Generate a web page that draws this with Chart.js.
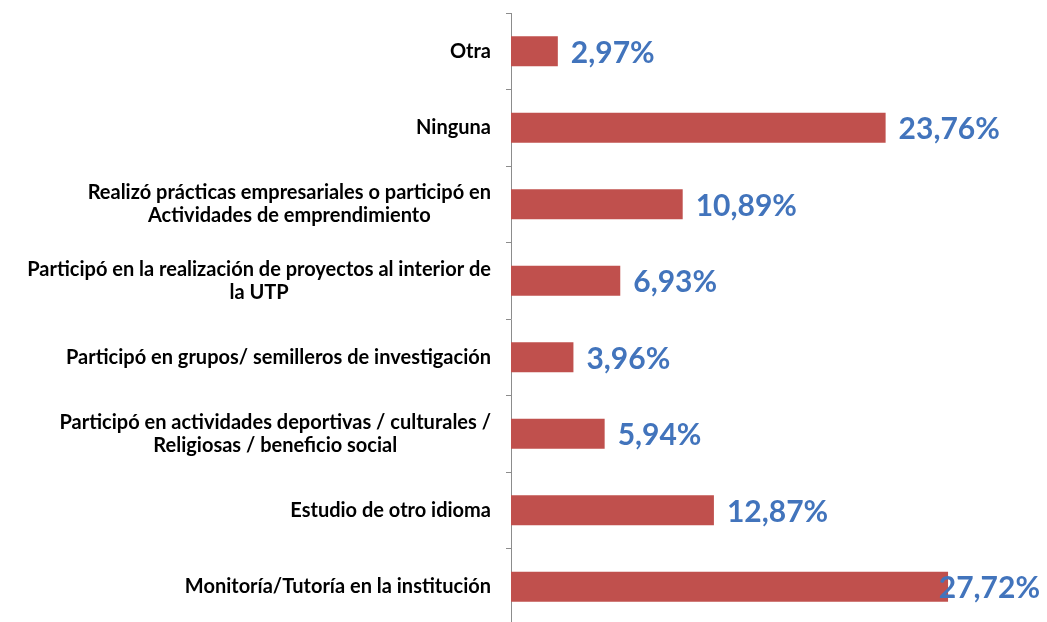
<!DOCTYPE html>
<html lang="es">
<head>
<meta charset="utf-8">
<title>Actividades</title>
<script src="https://cdn.jsdelivr.net/npm/chart.js@4.4.1/dist/chart.umd.min.js"></script>
<style>
    html, body { margin: 0; padding: 0; background: #ffffff; overflow: hidden; }
    #chart { display: block; }
</style>
</head>
<body>
<canvas id="chart" width="1047" height="625"></canvas>
<script>
// Categories, top to bottom
const categories = [
    'Otra',
    'Ninguna',
    ['Realizó prácticas empresariales o participó en', 'Actividades de emprendimiento'],
    ['Participó en la realización de proyectos al interior de', 'la UTP'],
    'Participó en grupos/ semilleros de investigación',
    ['Participó en actividades deportivas / culturales /', 'Religiosas / beneficio social'],
    'Estudio de otro idioma',
    'Monitoría/Tutoría en la institución'
];

// Percent of respondents
const percentages = [2.97, 23.76, 10.89, 6.93, 3.96, 5.94, 12.87, 27.72];

const barColor = '#C0504D';
const valueColor = '#4274BC';
const fontFamily = 'Lato, "Open Sans", sans-serif';
const labelFont = 'bold 20px ' + fontFamily;
const labelLineHeight = 23;

// Category labels: block right-aligned to the axis, lines centred within the block
const categoryLabels = {
    id: 'categoryLabels',
    afterDraw(chart) {
        const ctx = chart.ctx;
        const yScale = chart.scales.y;
        const right = yScale.right - 20;
        ctx.save();
        ctx.font = labelFont;
        ctx.fillStyle = '#000000';
        ctx.textBaseline = 'middle';
        ctx.textAlign = 'center';
        categories.forEach((label, i) => {
            const lines = Array.isArray(label) ? label : [label];
            const blockWidth = Math.max(...lines.map(l => ctx.measureText(l).width));
            const cx = right - blockWidth / 2;
            const cy = yScale.getPixelForTick(i);
            const top = cy - (lines.length - 1) * labelLineHeight / 2;
            lines.forEach((line, j) => {
                ctx.fillText(line, cx, top + j * labelLineHeight);
            });
        });
        ctx.restore();
    }
};

// Value labels drawn just past each bar end, pulled back in if they would run off the canvas
const valueLabels = {
    id: 'valueLabels',
    afterDatasetsDraw(chart) {
        const ctx = chart.ctx;
        const meta = chart.getDatasetMeta(0);
        ctx.save();
        ctx.font = 'bold 30px ' + fontFamily;
        ctx.fillStyle = valueColor;
        ctx.textBaseline = 'middle';
        ctx.textAlign = 'left';
        meta.data.forEach((bar, i) => {
            const text = percentages[i].toFixed(2).replace('.', ',') + '%';
            const w = ctx.measureText(text).width;
            let x = bar.x + 13;
            if (x + w > chart.width - 7) x = chart.width - 7 - w;
            ctx.fillText(text, x, bar.y + 2);
        });
        ctx.restore();
    }
};

new Chart(document.getElementById('chart'), {
    type: 'bar',
    data: {
        labels: categories,
        datasets: [{
            data: percentages,
            backgroundColor: barColor,
            borderWidth: 0,
            categoryPercentage: 1,
            barPercentage: 0.39
        }]
    },
    options: {
        indexAxis: 'y',
        responsive: false,
        animation: false,
        layout: {
            padding: { top: 13, right: 63, bottom: 0, left: 0 }
        },
        plugins: {
            legend: { display: false },
            tooltip: { enabled: false }
        },
        scales: {
            x: {
                display: false,
                min: 0,
                max: 30
            },
            y: {
                afterFit(scale) {
                    scale.width = 511;
                    scale.paddingTop = 0;
                    scale.paddingBottom = 0;
                },
                border: { display: true, color: '#8c8c8c', width: 1 },
                grid: {
                    drawOnChartArea: false,
                    drawTicks: true,
                    tickLength: 5,
                    color: '#8c8c8c'
                },
                ticks: {
                    padding: 15,
                    color: 'rgba(0,0,0,0)',
                    font: { family: fontFamily, size: 12 }
                }
            }
        }
    },
    plugins: [valueLabels, categoryLabels]
});
</script>
</body>
</html>
